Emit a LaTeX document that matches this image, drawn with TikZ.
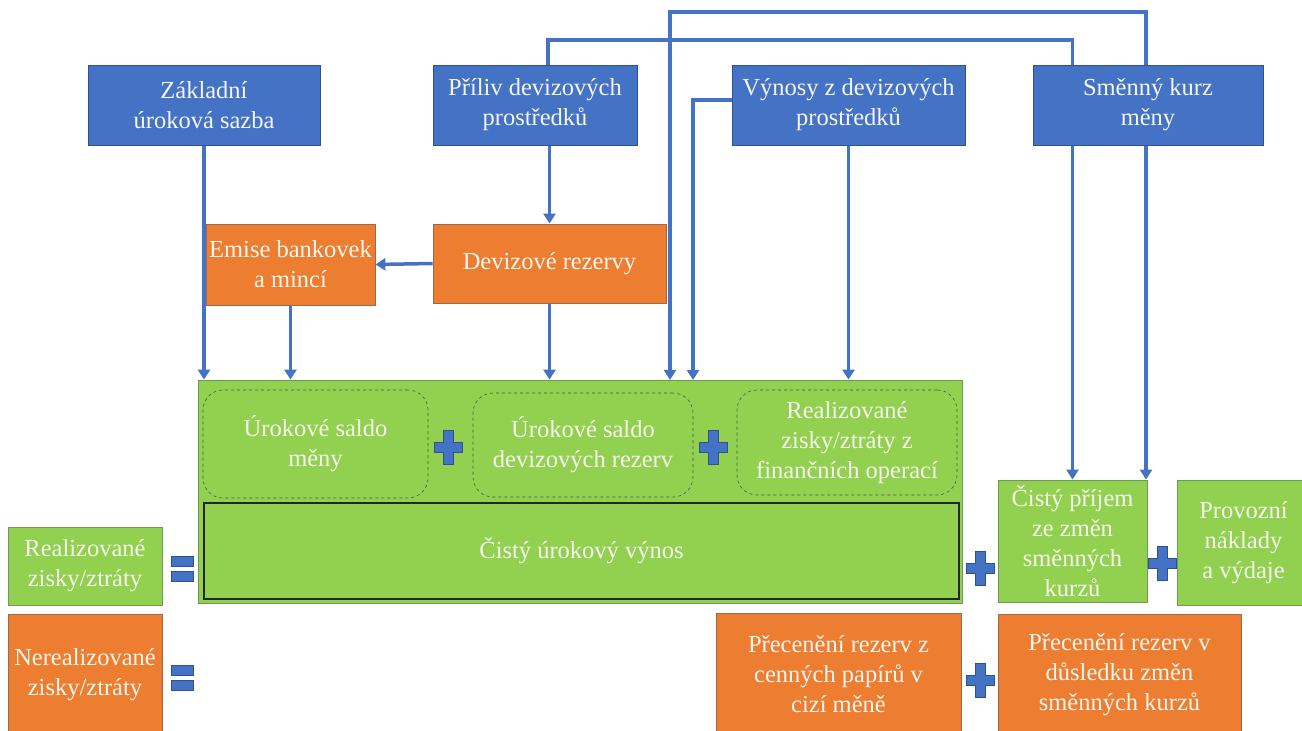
\documentclass[tikz,border=0pt]{standalone}
\usepackage{fontspec}
\setmainfont{Liberation Serif}
\usetikzlibrary{arrows.meta,backgrounds}
\definecolor{cblue}{HTML}{4472C4}
\definecolor{cblueb}{HTML}{2F528F}
\definecolor{corange}{HTML}{ED7D31}
\definecolor{coranb}{HTML}{9A6A4A}
\definecolor{cgreen}{HTML}{92D050}
\definecolor{cgreenb}{HTML}{6F9A55}
\definecolor{cdash}{HTML}{3E5A52}
\definecolor{ctext}{HTML}{F6F6EE}
\begin{document}
\begin{tikzpicture}[x=1pt,y=-1pt,
  every node/.style={inner sep=0pt,align=center,text=ctext,font=\fontsize{24.5}{30}\selectfont},
  bluebox/.style={draw=cblueb,line width=0.8pt,fill=cblue},
  orangebox/.style={draw=coranb,line width=0.8pt,fill=corange},
  greenbox/.style={draw=cgreenb,line width=0.8pt,fill=cgreen},
  innerbox/.style={draw=cdash,dashed,line width=0.6pt,rounded corners=20pt,fill=cgreen},
  conn/.style={draw=cblue,line width=3.5pt,-{Triangle[width=12pt,length=10pt]}},
  plus/.pic={\fill[cblue,draw=cblueb,line width=0.5pt] (-14,-5) -- (-5,-5) -- (-5,-17) -- (5,-17) -- (5,-5) -- (14,-5) -- (14,5) -- (5,5) -- (5,17) -- (-5,17) -- (-5,5) -- (-14,5) -- cycle;},
  equal/.pic={\fill[cblue,draw=cblueb,line width=0.5pt] (-11,-12) rectangle (11,-2);
              \fill[cblue,draw=cblueb,line width=0.5pt] (-11,3) rectangle (11,13);}
]
\clip (0,0) rectangle (1302,731);

% top row
\node[bluebox,minimum width=232pt,minimum height=80pt] (zak) at (204,105) {Základní\\úroková sazba};
\node[bluebox,minimum width=204pt,minimum height=80pt] (pri) at (535,105) {Příliv devizových\\prostředků};
\node[bluebox,minimum width=233pt,minimum height=80pt] (vyn) at (848.5,105) {Výnosy z devizových\\prostředků};
\node[bluebox,minimum width=230pt,minimum height=80pt] (sme) at (1148,105) {Směnný kurz\\měny};

% second row
\node[orangebox,minimum width=169pt,minimum height=81pt] (emi) at (290.5,264.5) {Emise bankovek\\a mincí};
\node[orangebox,minimum width=233pt,minimum height=79pt] (dev) at (549.5,263.5) {Devizové rezervy};

% big green box
\node[draw=cgreenb,line width=0.8pt,fill=cgreen,minimum width=764pt,minimum height=223pt] (big) at (580,491.5) {};
\node[innerbox,minimum width=225pt,minimum height=108pt] (in1) at (315.5,444) {Úrokové saldo\\měny};
\node[innerbox,minimum width=220pt,minimum height=104pt] (in2) at (583,445) {Úrokové saldo\\devizových rezerv};
\node[innerbox,minimum width=220pt,minimum height=105pt] (in3) at (847,442.5) {Realizované\\zisky/ztráty z\\finančních operací};
\node[draw=black!85,line width=1.3pt,fill=cgreen,minimum width=755pt,minimum height=96pt] (cuv) at (581.5,551) {Čistý úrokový výnos};

% left boxes
\node[greenbox,minimum width=154pt,minimum height=78pt] (realL) at (85,566) {Realizované\\zisky/ztráty};
\node[orangebox,minimum width=154pt,minimum height=121pt] (nerL) at (85,674.5) {Nerealizované\\zisky/ztráty};

% right boxes
\node[greenbox,minimum width=149pt,minimum height=122pt] (cis) at (1072.5,541) {Čistý příjem\\ze změn\\směnných\\kurzů};
\node[greenbox,minimum width=133pt,minimum height=125pt] (pro) at (1243.5,542.5) {Provozní\\náklady\\a výdaje};

% bottom boxes
\node[orangebox,minimum width=245pt,minimum height=122pt] (prz) at (838.5,674) {Přecenění rezerv z\\cenných papírů v\\cizí měně};
\node[orangebox,minimum width=243pt,minimum height=121pt] (prv) at (1119.5,674.5) {Přecenění rezerv v\\důsledku změn\\směnných kurzů};

% operators
\pic at (448,447) {plus};
\pic at (713,447) {plus};
\pic at (980,568) {plus};
\pic at (1162,563) {plus};
\pic at (980,680) {plus};
\pic at (182,568) {equal};
\pic at (182,677) {equal};

% connectors
\coordinate (t1) at (0,12);
\coordinate (t2) at (0,40);
\coordinate (k1) at (670,380);
\coordinate (k2) at (693,380);
\begin{scope}[on background layer]
\draw[conn] (zak.south) -- (zak.south |- big.north);
\draw[conn] (emi.south) -- (emi.south |- big.north);
\draw[conn] (dev.north |- pri.south) -- (dev.north);
\draw[conn] (dev.west) -- (emi.east);
\draw[conn] (dev.south) -- (dev.south |- big.north);
\draw[conn] (vyn.south) -- (vyn.south |- big.north);
\draw[conn] ([yshift=5pt]vyn.west) -| (k2);
\draw[conn] ([xshift=13pt]pri.north) |- (cis.north |- t2) -- (cis.north);
\draw[conn] ([xshift=-2pt]sme.north) |- (k1 |- t1) -- (k1);
\draw[conn] ([xshift=-2pt]sme.south) -- ([xshift=-2pt]sme.south |- cis.north);
\end{scope}
\end{tikzpicture}
\end{document}
